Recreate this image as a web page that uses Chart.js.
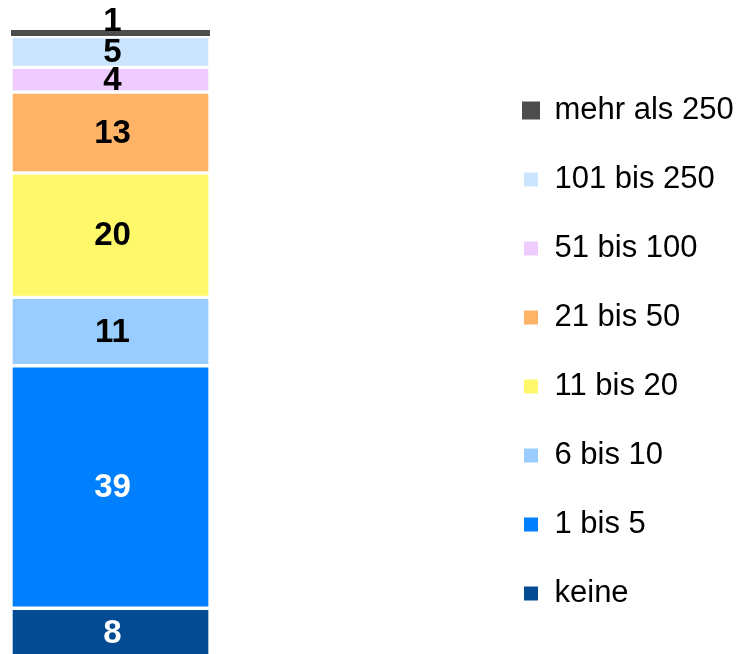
<!DOCTYPE html>
<html>
<head>
<meta charset="utf-8">
<script src="https://cdn.jsdelivr.net/npm/chart.js@4"></script>
<style>
  html, body { margin: 0; padding: 0; background: #fff; overflow: hidden; }
  #wrap { position: relative; width: 737px; height: 674px; }
</style>
</head>
<body>
<div id="wrap"><canvas id="chart"></canvas></div>
<script>
// Anteile nach Größenklasse (von unten nach oben gestapelt)
const categories = ['keine', '1 bis 5', '6 bis 10', '11 bis 20', '21 bis 50', '51 bis 100', '101 bis 250', 'mehr als 250'];
const values = [8, 39, 11, 20, 13, 4, 5, 1];
const colors = ['#034b93', '#0080ff', '#99ccff', '#fff86a', '#ffb366', '#eeccff', '#cce5ff', '#4d4d4d'];
const labelColors = ['#ffffff', '#ffffff', '#000000', '#000000', '#000000', '#000000', '#000000', '#000000'];

const barRight = 210;

// Zahlen in die Balkenabschnitte schreiben
const barLabels = {
    id: 'barLabels',
    afterDatasetsDraw(chart) {
        const ctx = chart.ctx;
        ctx.save();
        ctx.font = 'bold 33px "Liberation Sans", Arial, sans-serif';
        ctx.textAlign = 'center';
        ctx.textBaseline = 'middle';
        chart.data.datasets.forEach((ds, i) => {
            chart.getDatasetMeta(i).data.forEach((bar, j) => {
                const h = bar.base - bar.y;
                const y = h < 12 ? bar.y - 8 : (bar.y + bar.base) / 2 + 1;
                ctx.fillStyle = labelColors[i];
                ctx.fillText(ds.data[j], bar.x + 2, y);
            });
        });
        ctx.restore();
    }
};

const datasets = categories.map((name, i) => ({
    label: name,
    data: [values[i]],
    backgroundColor: colors[i],
    borderColor: i === categories.length - 1 ? colors[i] : '#ffffff',
    borderWidth: 2,
    borderSkipped: false
}));

new Chart(document.getElementById('chart'), {
    type: 'bar',
    data: { labels: [''], datasets: datasets },
    plugins: [barLabels],
    options: {
        responsive: true,
        maintainAspectRatio: false,
        animation: false,
        barPercentage: 1,
        categoryPercentage: 1,
        layout: { padding: { top: 30, left: 11, right: 0, bottom: 0 } },
        scales: {
            x: { stacked: true, display: false },
            y: {
                stacked: true,
                min: -2.57,
                max: 101,
                position: 'right',
                grid: { display: false },
                border: { display: false },
                ticks: { display: false },
                afterFit: (scale) => {
                    scale.width = scale.chart.width - scale.chart.legend.width - barRight;
                }
            }
        },
        plugins: {
            tooltip: { enabled: false },
            legend: {
                position: 'right',
                reverse: true,
                maxWidth: 252,
                labels: {
                    boxWidth: 16,
                    boxHeight: 16,
                    padding: 38,
                    color: '#000000',
                    font: { family: '"Liberation Sans", Arial, sans-serif', size: 31 }
                }
            }
        }
    }
});
</script>
</body>
</html>
